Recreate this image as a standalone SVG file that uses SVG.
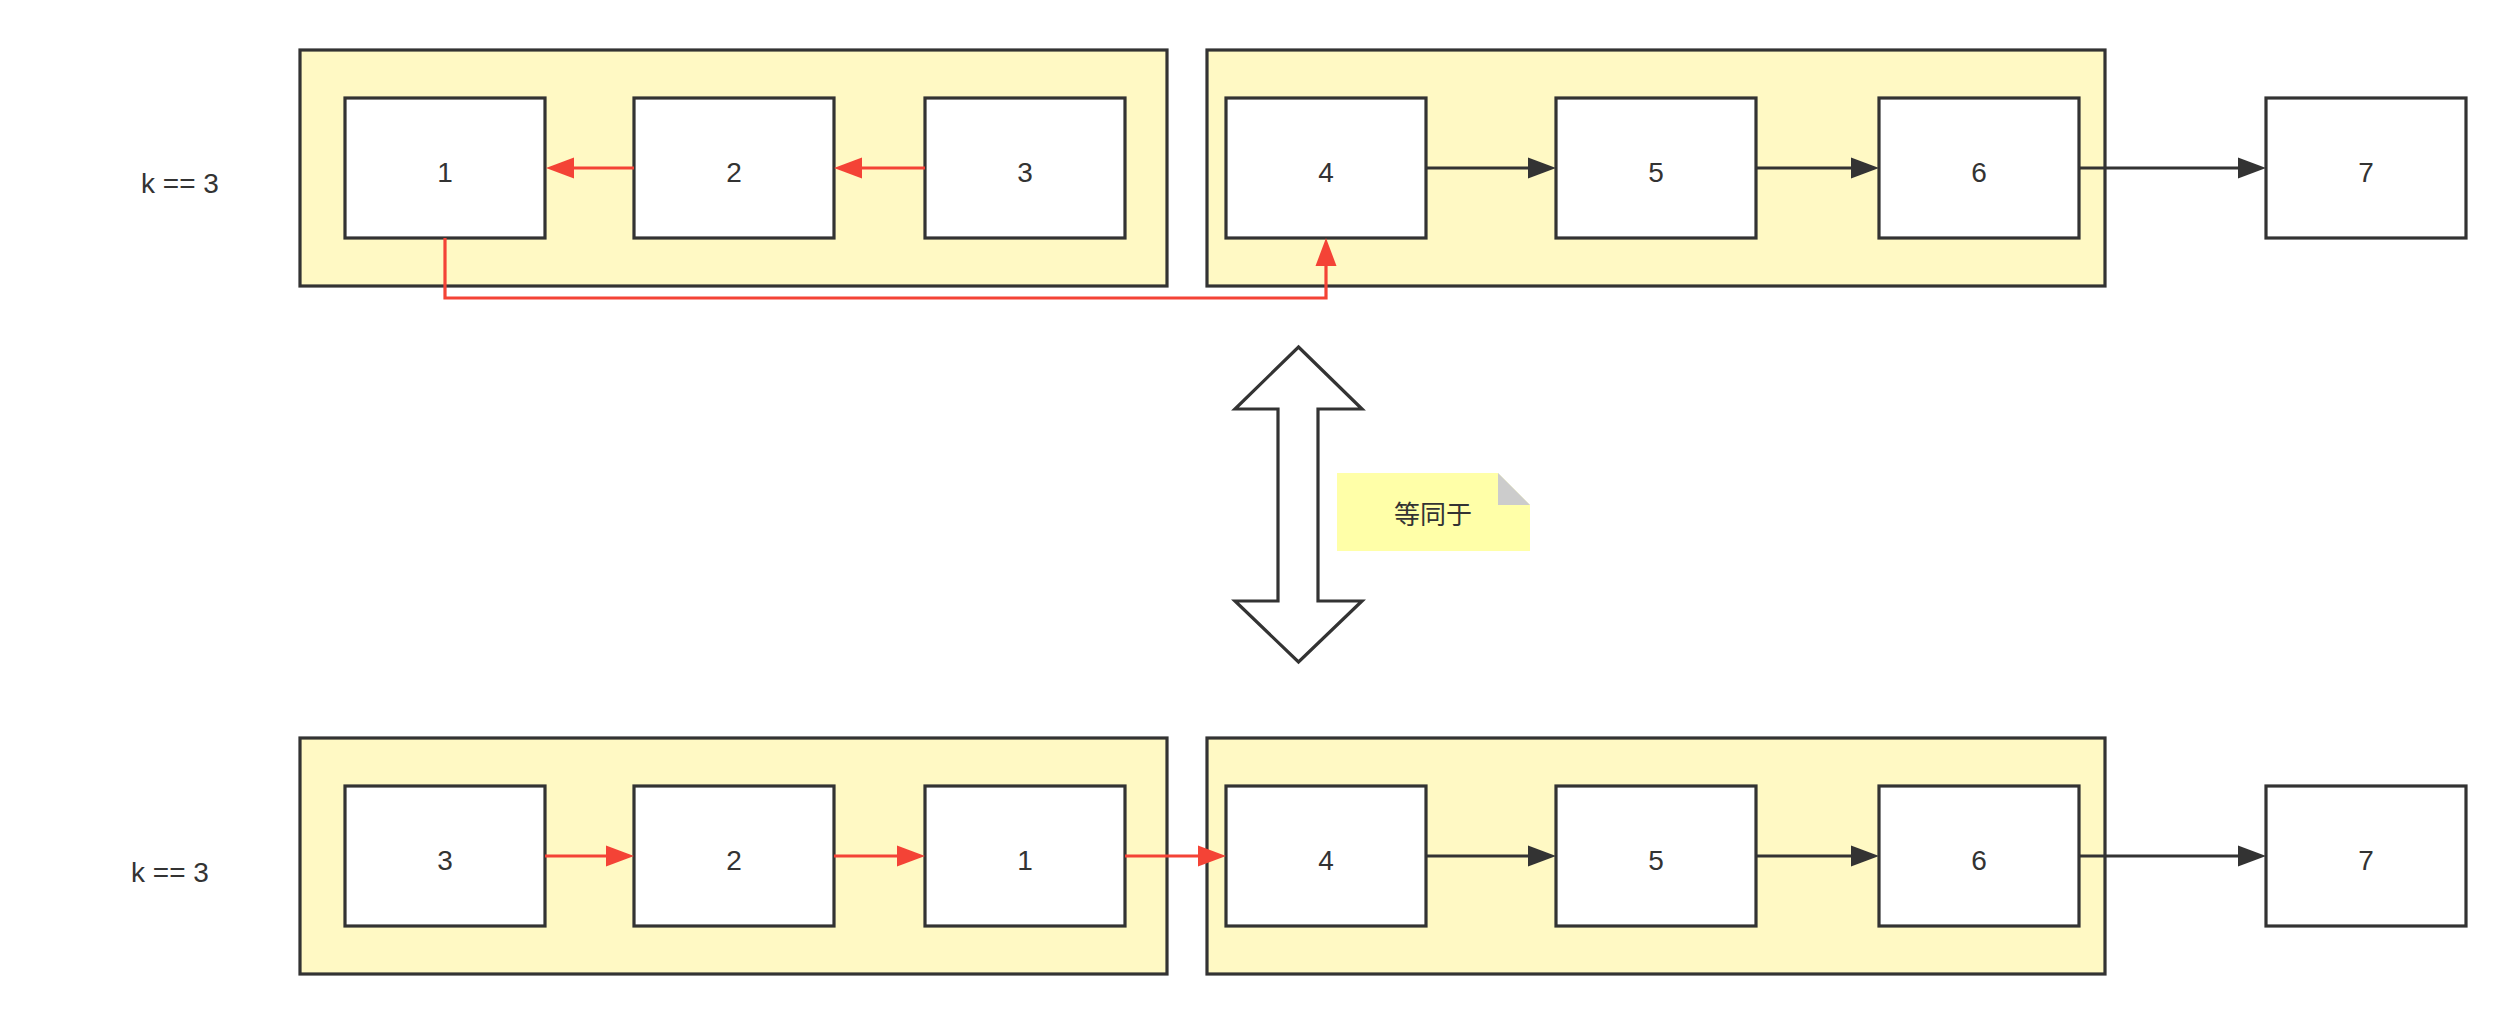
<svg xmlns="http://www.w3.org/2000/svg" width="2515" height="1024" viewBox="0 0 2515 1024">
<style>
.box{fill:#FFF9C4;stroke:#333333;stroke-width:3.2}
.node{fill:#FFFFFF;stroke:#333333;stroke-width:3.2}
.lbl{font-family:"Liberation Sans",Arial,sans-serif;font-size:28px;fill:#333333;text-anchor:middle}
.red{fill:none;stroke:#F44336;stroke-width:3.2}
.blk{fill:none;stroke:#333333;stroke-width:3.2}
</style>
<defs>
<marker id="ar" markerUnits="userSpaceOnUse" markerWidth="28" markerHeight="21" refX="0" refY="10.5" orient="auto" overflow="visible"><path d="M0,0 L28,10.5 L0,21 Z" fill="#F44336"/></marker>
<marker id="ab" markerUnits="userSpaceOnUse" markerWidth="28" markerHeight="21" refX="0" refY="10.5" orient="auto" overflow="visible"><path d="M0,0 L28,10.5 L0,21 Z" fill="#333333"/></marker>
</defs>
<rect width="2515" height="1024" fill="#FFFFFF"/>

<g id="label-top"><text class="lbl" x="180" y="193">k == 3</text></g>
<g id="group-top-a"><rect class="box" x="300" y="50" width="867" height="236"/></g>
<g id="group-top-b"><rect class="box" x="1207" y="50" width="898" height="236"/></g>
<g id="t1"><rect class="node" x="345" y="98" width="200" height="140"/><text class="lbl" x="445" y="182">1</text></g>
<g id="t2"><rect class="node" x="634" y="98" width="200" height="140"/><text class="lbl" x="734" y="182">2</text></g>
<g id="t3"><rect class="node" x="925" y="98" width="200" height="140"/><text class="lbl" x="1025" y="182">3</text></g>
<g id="t4"><rect class="node" x="1226" y="98" width="200" height="140"/><text class="lbl" x="1326" y="182">4</text></g>
<g id="t5"><rect class="node" x="1556" y="98" width="200" height="140"/><text class="lbl" x="1656" y="182">5</text></g>
<g id="t6"><rect class="node" x="1879" y="98" width="200" height="140"/><text class="lbl" x="1979" y="182">6</text></g>
<g id="t7"><rect class="node" x="2266" y="98" width="200" height="140"/><text class="lbl" x="2366" y="182">7</text></g>

<g id="double-arrow"><polygon points="1298.5,347 1362,409 1318,409 1318,601 1362,601 1298.5,662 1235,601 1278,601 1278,409 1235,409" fill="#FFFFFF" stroke="#333333" stroke-width="3.2"/></g>
<g id="note">
<polygon points="1337,473 1498,473 1530,505 1530,551 1337,551" fill="#FFFFA8"/>
<polygon points="1498,473 1530,505 1498,505" fill="#CCCCCC"/>
<text x="1433" y="524" font-family="'Noto Sans CJK SC',sans-serif" font-size="26" fill="#333333" text-anchor="middle">等同于</text>
</g>

<g id="label-bottom"><text class="lbl" x="170" y="882">k == 3</text></g>
<g id="group-bot-a"><rect class="box" x="300" y="738" width="867" height="236"/></g>
<g id="group-bot-b"><rect class="box" x="1207" y="738" width="898" height="236"/></g>
<g id="b3"><rect class="node" x="345" y="786" width="200" height="140"/><text class="lbl" x="445" y="870">3</text></g>
<g id="b2"><rect class="node" x="634" y="786" width="200" height="140"/><text class="lbl" x="734" y="870">2</text></g>
<g id="b1"><rect class="node" x="925" y="786" width="200" height="140"/><text class="lbl" x="1025" y="870">1</text></g>
<g id="b4"><rect class="node" x="1226" y="786" width="200" height="140"/><text class="lbl" x="1326" y="870">4</text></g>
<g id="b5"><rect class="node" x="1556" y="786" width="200" height="140"/><text class="lbl" x="1656" y="870">5</text></g>
<g id="b6"><rect class="node" x="1879" y="786" width="200" height="140"/><text class="lbl" x="1979" y="870">6</text></g>
<g id="b7"><rect class="node" x="2266" y="786" width="200" height="140"/><text class="lbl" x="2366" y="870">7</text></g>

<g id="connectors">
<path class="red" d="M634,168 H574" marker-end="url(#ar)"/>
<path class="red" d="M925,168 H862" marker-end="url(#ar)"/>
<path class="red" d="M445,238 V298 H1326 V266" marker-end="url(#ar)"/>
<path class="blk" d="M1426,168 H1528" marker-end="url(#ab)"/>
<path class="blk" d="M1756,168 H1851" marker-end="url(#ab)"/>
<path class="blk" d="M2079,168 H2238" marker-end="url(#ab)"/>
<path class="red" d="M545,856 H606" marker-end="url(#ar)"/>
<path class="red" d="M834,856 H897" marker-end="url(#ar)"/>
<path class="red" d="M1125,856 H1198" marker-end="url(#ar)"/>
<path class="blk" d="M1426,856 H1528" marker-end="url(#ab)"/>
<path class="blk" d="M1756,856 H1851" marker-end="url(#ab)"/>
<path class="blk" d="M2079,856 H2238" marker-end="url(#ab)"/>
</g>
</svg>
